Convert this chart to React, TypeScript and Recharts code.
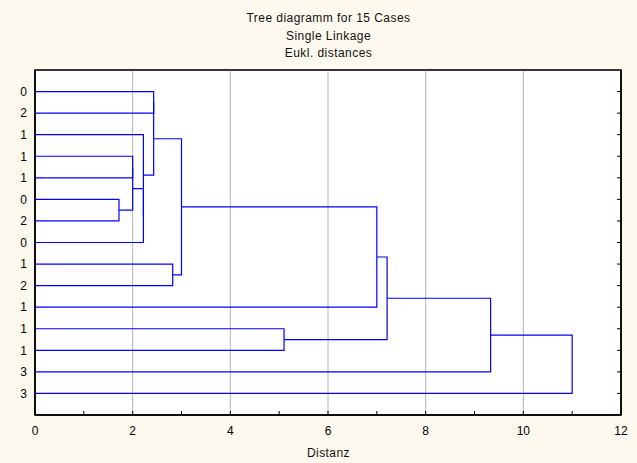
import React from 'react';
import { ComposedChart, Scatter, XAxis, YAxis, ReferenceLine, ReferenceArea } from 'recharts';

// Leaf labels, top to bottom
const caseLabels = ['0', '2', '1', '1', '1', '0', '2', '0', '1', '2', '1', '1', '1', '3', '3'];
// Linkage: node ids 0..14 are leaves, merge k creates node 15+k
const mergeLeft = [5, 3, 16, 17, 18, 0, 20, 8, 21, 23, 11, 24, 26, 27];
const mergeRight = [6, 4, 15, 7, 2, 1, 19, 9, 22, 10, 12, 25, 13, 14];
const mergeHeight = [1.72, 2.0, 2.0, 2.22, 2.22, 2.43, 2.43, 2.82, 3.0, 7.0, 5.1, 7.21, 9.33, 11.0];

const xTicks = [0, 1, 2, 3, 4, 5, 6, 7, 8, 9, 10, 11, 12];
const gridValues = [2, 4, 6, 8, 10];
const rowTicks = [1, 2, 3, 4, 5, 6, 7, 8, 9, 10, 11, 12, 13, 14, 15];

const titleLines = ['Tree diagramm for 15 Cases', 'Single Linkage', 'Eukl. distances'];
const xTitle = 'Distanz';

const FONT = '"Liberation Sans", Arial, sans-serif';
const BLUE = '#0000ff';

type P = { x: number; y: number };

function buildLinks(): P[][] {
  const pos: P[] = caseLabels.map((_, i) => ({ x: 0, y: i + 1 }));
  const links: P[][] = [];
  for (let k = 0; k < mergeHeight.length; k++) {
    const a = pos[mergeLeft[k]];
    const b = pos[mergeRight[k]];
    const h = mergeHeight[k];
    links.push([
      { x: a.x, y: a.y },
      { x: h, y: a.y },
      { x: h, y: b.y },
      { x: b.x, y: b.y },
    ]);
    pos.push({ x: h, y: (a.y + b.y) / 2 });
  }
  return links;
}

const links = buildLinks();

const BottomTick = (props: any) => {
  const { x, y, payload } = props;
  const v = payload.value;
  return (
    <g>
      <line x1={x} y1={y} x2={x} y2={y - 4} stroke="#000" strokeWidth={1} />
      {v % 2 === 0 ? (
        <text x={x} y={y + 20} textAnchor="middle" fontSize={12} fontFamily={FONT} fill="#000">
          {v}
        </text>
      ) : null}
    </g>
  );
};

const TopTick = (props: any) => {
  const { x, y } = props;
  return <line x1={x} y1={y} x2={x} y2={y + 4} stroke="#000" strokeWidth={1} />;
};

const RightTick = (props: any) => {
  const { x, y } = props;
  return <line x1={x} y1={y} x2={x - 4} y2={y} stroke="#000" strokeWidth={1} />;
};

const EmptyShape = () => <g />;

const textStyle: React.CSSProperties = {
  position: 'absolute',
  left: 35,
  width: 587,
  textAlign: 'center',
  fontFamily: FONT,
  fontSize: 12,
  letterSpacing: 0.45,
  lineHeight: '14px',
  color: '#111',
};

export default function App() {
  return (
    <div style={{ position: 'fixed', left: 0, top: 0, width: 637, height: 463, background: '#fef9ee' }}>
      {titleLines.map((t, i) => (
        <div key={i} style={{ ...textStyle, top: 11 + i * 17.5 }}>
          {t}
        </div>
      ))}
      <div style={{ ...textStyle, top: 446 }}>{xTitle}</div>
      <div style={{ position: 'absolute', left: 0, top: 0 }}>
        <ComposedChart width={637} height={463} margin={{ top: 69, right: 15, bottom: 28, left: 10 }}>
          <XAxis
            xAxisId="b"
            dataKey="x"
            type="number"
            domain={[0, 12]}
            ticks={xTicks}
            interval={0}
            allowDataOverflow
            height={20}
            tickSize={0}
            tickMargin={0}
            tickLine={false}
            tick={<BottomTick />}
            axisLine={{ stroke: '#000', strokeWidth: 1.5 }}
          />
          <XAxis
            xAxisId="t"
            orientation="top"
            type="number"
            domain={[0, 12]}
            ticks={xTicks}
            interval={0}
            allowDataOverflow
            height={1}
            tickSize={0}
            tickMargin={0}
            tickLine={false}
            tick={<TopTick />}
            axisLine={{ stroke: '#333', strokeWidth: 1.5 }}
          />
          <YAxis
            yAxisId="l"
            dataKey="y"
            type="number"
            domain={[0, 16]}
            reversed
            ticks={rowTicks}
            interval={0}
            allowDataOverflow
            width={25}
            tickLine={false}
            tickFormatter={(v: number) => caseLabels[v - 1] ?? ''}
            tick={{ fontSize: 12, fontFamily: FONT, fill: '#000' }}
            axisLine={{ stroke: '#000', strokeWidth: 1.5 }}
          />
          <YAxis
            yAxisId="r"
            orientation="right"
            type="number"
            domain={[0, 16]}
            reversed
            ticks={rowTicks}
            interval={0}
            allowDataOverflow
            width={1}
            tickSize={0}
            tickMargin={0}
            tickLine={false}
            tick={<RightTick />}
            axisLine={{ stroke: '#000', strokeWidth: 1.5 }}
          />
          <ReferenceArea
            xAxisId="b"
            yAxisId="l"
            x1={0}
            x2={12}
            y1={0}
            y2={16}
            fill="#ffffff"
            fillOpacity={1}
            stroke="#000"
            strokeWidth={1.5}
          />
          {gridValues.map((g) => (
            <ReferenceLine key={g} xAxisId="b" yAxisId="l" x={g} stroke="#b4b4b4" strokeWidth={1} />
          ))}
          {links.map((pts, i) => (
            <Scatter
              key={i}
              xAxisId="b"
              yAxisId="l"
              data={pts}
              fill={BLUE}
              line={{ stroke: BLUE, strokeWidth: 1.2 }}
              lineType="joint"
              shape={EmptyShape}
              isAnimationActive={false}
            />
          ))}
        </ComposedChart>
      </div>
    </div>
  );
}
